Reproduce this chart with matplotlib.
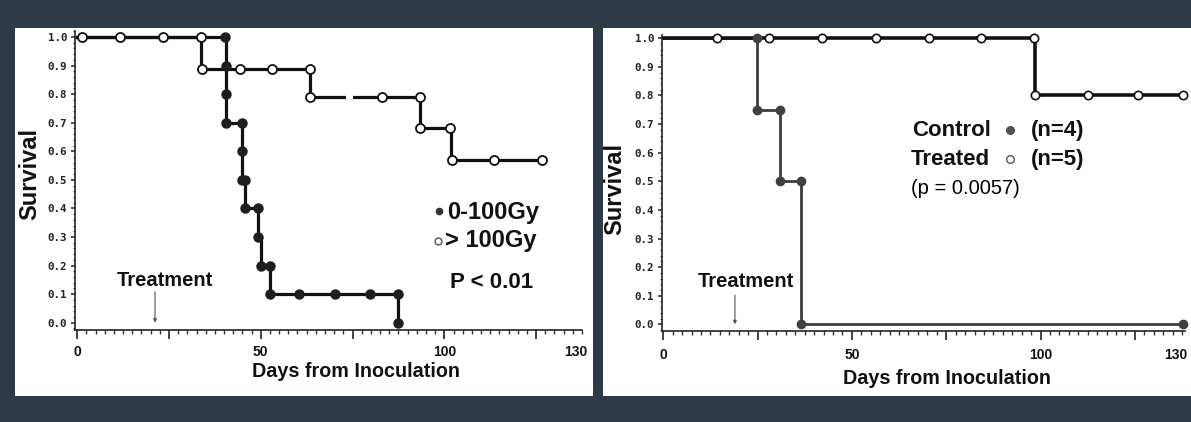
import matplotlib
matplotlib.use('Agg')
import matplotlib.pyplot as plt
from matplotlib.patches import Rectangle
from matplotlib.ticker import FixedLocator, MultipleLocator, NullFormatter
from matplotlib.transforms import blended_transform_factory

# colours
BG = '#2e3a48'
INK = '#111111'

# ---- left panel: dose groups ----
low_days = [0, 40.5, 40.5, 40.5, 44.8, 44.8, 45.8, 49.2, 50.0, 52.5, 87.5]
low_surv = [1.0, 0.9, 0.8, 0.7, 0.6, 0.5, 0.4, 0.3, 0.2, 0.1, 0.0]
low_mark_days = [40.3, 40.5, 40.5, 40.5, 44.8, 44.8, 44.8, 45.8, 45.8, 49.2, 49.2, 50.0,
                 52.5, 52.5, 60.5, 70.2, 79.7, 87.5, 87.5]
low_mark_surv = [1.0, 0.9, 0.8, 0.7, 0.7, 0.6, 0.5, 0.5, 0.4, 0.4, 0.3, 0.2,
                 0.2, 0.1, 0.1, 0.1, 0.1, 0.1, 0.0]

high_days = [0, 33.8, 63.4, 93.4, 101.8, 126.5]
high_surv = [1.0, 0.889, 0.79, 0.68, 0.57, 0.57]
high_mark_days = [1.2, 11.6, 23.3, 33.8, 33.9, 44.3, 53.0, 63.4, 63.4, 82.9, 93.4,
                  93.4, 101.6, 102.0, 113.5, 126.5]
high_mark_surv = [1.0, 1.0, 1.0, 1.0, 0.889, 0.889, 0.889, 0.889, 0.79, 0.79, 0.79,
                  0.68, 0.68, 0.57, 0.57, 0.57]

# ---- right panel: control vs treated ----
ctrl_days = [0, 24.8, 31.0, 36.6, 138.0]
ctrl_surv = [1.0, 0.75, 0.5, 0.0, 0.0]
ctrl_mark_days = [24.8, 24.8, 31.0, 31.0, 36.6, 36.6, 137.9]
ctrl_mark_surv = [1.0, 0.75, 0.75, 0.5, 0.5, 0.0, 0.0]

treat_days = [0, 98.5, 137.9]
treat_surv = [1.0, 0.8, 0.8]
treat_mark_days = [14.2, 28.1, 42.2, 56.5, 70.4, 84.1, 98.3, 98.5, 112.7, 125.9, 137.9]
treat_mark_surv = [1.0, 1.0, 1.0, 1.0, 1.0, 1.0, 1.0, 0.8, 0.8, 0.8, 0.8]

# axis labelling
y_ticks = [0.0, 0.1, 0.2, 0.3, 0.4, 0.5, 0.6, 0.7, 0.8, 0.9, 1.0]
x_major = [0, 25, 50, 75, 100, 125]
x_tick_labels = ['0', '50', '100', '130']
x_tick_label_pos = [0, 50, 100, 135.8]
treatment_day = [21.2, 19.0]

SANS = ['Liberation Sans', 'DejaVu Sans']

fig = plt.figure(figsize=(11.91, 4.22), dpi=100)
fig.patch.set_facecolor(BG)
W, H = 1191.0, 422.0


def px_rect(x0, y0, x1, y1):
    # pixel box (top-left origin) -> figure fraction
    return [x0 / W, (H - y1) / H, (x1 - x0) / W, (y1 - y0) / H]


for box in [(15, 28, 593, 396), (603, 28, 1191, 396)]:
    r = px_rect(*box)
    fig.patches.append(Rectangle((r[0], r[1]), r[2], r[3], transform=fig.transFigure,
                                 facecolor='white', edgecolor='none', zorder=-10))

ax1 = fig.add_axes(px_rect(75, 31.3, 582, 329.8))
ax2 = fig.add_axes(px_rect(661.7, 35, 1185, 331))


def style_axes(ax, xlim, ylim, xlab_pos, ylab_pos, tick_y):
    ax.set_facecolor('none')
    ax.set_xlim(*xlim)
    ax.set_ylim(*ylim)
    for s in ['top', 'right']:
        ax.spines[s].set_visible(False)
    for s in ['left', 'bottom']:
        ax.spines[s].set_linewidth(1.2)
        ax.spines[s].set_color('#222222')
    ax.xaxis.set_major_locator(FixedLocator(x_major))
    ax.xaxis.set_minor_locator(MultipleLocator(2.5))
    ax.xaxis.set_major_formatter(NullFormatter())
    ax.tick_params(axis='x', which='major', direction='out', length=6.5, width=1.2, color='#222222')
    ax.tick_params(axis='x', which='minor', direction='out', length=3, width=1.0, color='#333333')
    ax.yaxis.set_major_locator(FixedLocator(y_ticks))
    ax.yaxis.set_minor_locator(MultipleLocator(0.02))
    ax.set_yticklabels(['%.1f' % v for v in y_ticks])
    ax.tick_params(axis='y', which='major', direction='out', length=3, width=1.1, pad=2.5,
                   color='#222222')
    ax.tick_params(axis='y', which='minor', direction='out', length=1.6, width=0.8, color='#444444')
    for lab in ax.get_yticklabels():
        lab.set_family('DejaVu Sans Mono')
        lab.set_fontweight('bold')
        lab.set_fontsize(7.8)
        lab.set_color('#222222')
    trans = blended_transform_factory(ax.transData, ax.transAxes)
    for pos, lab in zip(x_tick_label_pos, x_tick_labels):
        ax.text(pos, tick_y, lab, transform=trans, ha='center', va='center',
                family=SANS, fontweight='bold', fontsize=10, color='#111111')
    ax.text(xlab_pos[0], xlab_pos[1], 'Days from Inoculation', transform=ax.transAxes,
            ha='center', va='center', family=SANS, fontweight='bold', fontsize=14.2,
            color='#111111')
    ax.text(ylab_pos[0], ylab_pos[1], 'Survival', transform=ax.transAxes, rotation=90,
            ha='center', va='center', family=SANS, fontweight='bold', fontsize=17,
            color='#111111')


style_axes(ax1, (-0.6, 137.5), (-0.025, 1.02), (0.555, -0.141), (-0.0897, 0.522), -0.074)
style_axes(ax2, (-0.42, 138.3), (-0.0234, 1.0115), (0.545, -0.159), (-0.089, 0.48), -0.08)

# left curves
ax1.step(low_days, low_surv, where='post', color=INK, lw=2.3, zorder=2)
ax1.step(high_days, high_surv, where='post', color=INK, lw=2.3, zorder=2)
ax1.plot([73.2, 75.2], [0.79, 0.79], color='white', lw=4, solid_capstyle='butt', zorder=2.5)
ax1.plot(low_mark_days, low_mark_surv, 'o', ms=6.5, color='#1e1e1e', zorder=3, clip_on=False)
ax1.plot(high_mark_days, high_mark_surv, 'o', ms=6.5, mfc='white', mec=INK, mew=1.3,
         zorder=3, clip_on=False)

# right curves
ax2.step(ctrl_days, ctrl_surv, where='post', color='#3c3c3c', lw=2.0, zorder=2)
ax2.step(treat_days, treat_surv, where='post', color=INK, lw=2.6, zorder=2.2)
ax2.plot(ctrl_mark_days, ctrl_mark_surv, 'o', ms=6, color='#404040', zorder=3, clip_on=False)
ax2.plot(treat_mark_days, treat_mark_surv, 'o', ms=6, mfc='white', mec=INK, mew=1.2,
         zorder=3, clip_on=False)

# treatment arrows
for ax, day, top in [(ax1, treatment_day[0], 0.108), (ax2, treatment_day[1], 0.102)]:
    ax.annotate('', xy=(day, 0.0), xytext=(day, top),
                arrowprops=dict(arrowstyle='-|>', color='#555555', lw=0.8,
                                mutation_scale=5, shrinkA=0, shrinkB=0))
    ax.text(day + 2.8, 0.149, 'Treatment', ha='center', va='center', family=SANS,
            fontweight='bold', fontsize=14.5, color='#111111')

# left legend
ax1.plot([0.7175], [0.399], 'o', ms=4.5, color='#333333', transform=ax1.transAxes, clip_on=False)
ax1.plot([0.7155], [0.297], 'o', ms=5, mfc='white', mec='#444444', mew=0.9,
         transform=ax1.transAxes, clip_on=False)
ax1.text(0.7337, 0.3946, '0-100Gy', transform=ax1.transAxes, ha='left', va='center',
         family=SANS, fontweight='bold', fontsize=17, color='#111111')
ax1.text(0.7298, 0.3008, '> 100Gy', transform=ax1.transAxes, ha='left', va='center',
         family=SANS, fontweight='bold', fontsize=17, color='#111111')
ax1.text(0.7396, 0.160, 'P < 0.01', transform=ax1.transAxes, ha='left', va='center',
         family=SANS, fontweight='bold', fontsize=16, color='#111111')

# right legend
ax2.text(0.4777, 0.679, 'Control', transform=ax2.transAxes, ha='left', va='center',
         family=SANS, fontweight='bold', fontsize=16, color='#111111')
ax2.text(0.7051, 0.679, '(n=4)', transform=ax2.transAxes, ha='left', va='center',
         family=SANS, fontweight='bold', fontsize=16, color='#111111')
ax2.plot([0.6656], [0.679], 'o', ms=5.5, color='#505050', transform=ax2.transAxes, clip_on=False)
ax2.text(0.4764, 0.581, 'Treated', transform=ax2.transAxes, ha='left', va='center',
         family=SANS, fontweight='bold', fontsize=16, color='#111111')
ax2.text(0.7051, 0.581, '(n=5)', transform=ax2.transAxes, ha='left', va='center',
         family=SANS, fontweight='bold', fontsize=16, color='#111111')
ax2.plot([0.6656], [0.581], 'o', ms=5.5, mfc='white', mec='#555555', mew=1.0,
         transform=ax2.transAxes, clip_on=False)
ax2.text(0.4764, 0.483, '(p = 0.0057)', transform=ax2.transAxes, ha='left', va='center',
         family=SANS, fontsize=14.5, color='#000000')

fig.savefig('out.png', dpi=100, facecolor=BG)
